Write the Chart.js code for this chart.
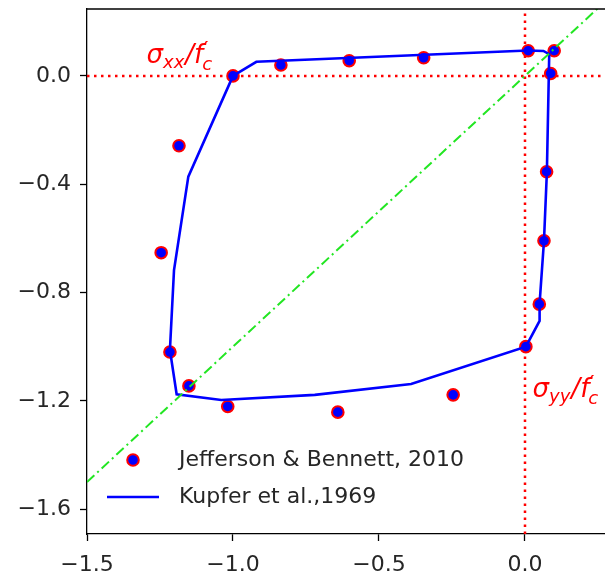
<!DOCTYPE html>
<html>
<head>
<meta charset="utf-8">
<script src="https://cdn.jsdelivr.net/npm/chart.js@4"></script>
<style>
html, body { margin: 0; padding: 0; background: #fff; overflow: hidden; }
#wrap { width: 605px; height: 577px; }
</style>
</head>
<body>
<div id="wrap"><canvas id="chart" width="605" height="577"></canvas></div>
<script>
// Biaxial strength envelope: experiment vs. Kupfer curve
const jbX = [-1.0, -0.836, -0.602, -0.347, 0.011, 0.100, 0.088, 0.074, 0.065, 0.049, 0.003, -0.246, -0.641, -1.018, -1.151, -1.216, -1.246, -1.185];
const jbY = [0.0, 0.040, 0.056, 0.067, 0.093, 0.093, 0.009, -0.354, -0.609, -0.843, -1.0, -1.178, -1.242, -1.221, -1.145, -1.020, -0.653, -0.258];

const kupferX = [-1.0, -0.92, 0.01, 0.063, 0.083, 0.075, 0.065, 0.05, 0.05, 0.003, -0.39, -0.72, -1.04, -1.193, -1.216, -1.202, -1.153, -1.0];
const kupferY = [0.0, 0.052, 0.094, 0.092, 0.08, -0.354, -0.61, -0.84, -0.905, -1.0, -1.138, -1.178, -1.197, -1.176, -1.012, -0.717, -0.372, 0.0];

const xTicks = [-1.5, -1.0, -0.5, 0.0];
const yTicks = [0.0, -0.4, -0.8, -1.2, -1.6];
const xLim = [-1.5, 0.274];
const yLim = [-1.692, 0.247];

const FONT = '"DejaVu Sans", sans-serif';
const INK = '#262626';

const toPts = (xs, ys) => xs.map((x, i) => ({ x: x, y: ys[i] }));
const fmt = v => (v < 0 ? '\u2212' : '') + Math.abs(v).toFixed(1);

// sigma_ab / f'_c written out piece by piece (mathtext style)
function drawRatio(ctx, x, y, sub) {
    const big = 'italic 26px ' + FONT;
    const small = 'italic 18px ' + FONT;
    let cx = x;
    ctx.fillStyle = '#ff0000';
    ctx.textAlign = 'left';
    ctx.textBaseline = 'alphabetic';
    ctx.font = big;
    ctx.fillText('\u03c3', cx, y);
    cx += ctx.measureText('\u03c3').width;
    ctx.font = small;
    ctx.fillText(sub, cx, y + 5);
    cx += ctx.measureText(sub).width + 1;
    ctx.font = big;
    ctx.fillText('/', cx, y);
    cx += ctx.measureText('/').width;
    ctx.fillText('f', cx, y);
    cx += ctx.measureText('f').width;
    ctx.font = 'italic 22px ' + FONT;
    ctx.fillText('\u2032', cx, y - 6);
    ctx.font = small;
    ctx.fillText('c', cx - 1, y + 7);
}

const annotations = {
    id: 'annotations',
    afterDraw(chart) {
        const { ctx, chartArea, scales } = chart;
        ctx.save();
        // top spine
        ctx.strokeStyle = '#000';
        ctx.lineWidth = 1.3;
        ctx.beginPath();
        ctx.moveTo(chartArea.left, chartArea.top);
        ctx.lineTo(chartArea.right, chartArea.top);
        ctx.stroke();

        drawRatio(ctx, scales.x.getPixelForValue(-1.296), scales.y.getPixelForValue(0.048), 'xx');
        drawRatio(ctx, scales.x.getPixelForValue(0.026), scales.y.getPixelForValue(-1.186), 'yy');

        // legend
        const pts = chart.data.datasets[2];
        const line = chart.data.datasets[1];
        const lx = 133, ly1 = 460, ly2 = 497;
        ctx.beginPath();
        ctx.arc(lx, ly1, pts.pointRadius, 0, Math.PI * 2);
        ctx.fillStyle = pts.backgroundColor;
        ctx.fill();
        ctx.lineWidth = pts.borderWidth;
        ctx.strokeStyle = pts.borderColor;
        ctx.stroke();
        ctx.beginPath();
        ctx.moveTo(107, ly2);
        ctx.lineTo(159, ly2);
        ctx.lineWidth = line.borderWidth;
        ctx.strokeStyle = line.borderColor;
        ctx.stroke();
        ctx.fillStyle = INK;
        ctx.font = '22px ' + FONT;
        ctx.textBaseline = 'middle';
        ctx.fillText(pts.label, 179, ly1);
        ctx.fillText(line.label, 179, ly2);
        ctx.restore();
    }
};

const axisCommon = {
    type: 'linear',
    grid: { display: true, drawOnChartArea: false, drawTicks: true, tickLength: 7, tickWidth: 1.3, tickColor: '#000' },
    border: { display: true, color: '#000', width: 1.3 },
    ticks: { color: INK, font: { family: 'DejaVu Sans', size: 22 }, callback: v => fmt(v) }
};

new Chart(document.getElementById('chart'), {
    type: 'scatter',
    data: {
        datasets: [
            {
                label: 'y = x',
                data: toPts(xLim, xLim),
                showLine: true,
                borderColor: '#22e622',
                borderWidth: 2,
                borderDash: [10, 4, 2, 4],
                pointRadius: 0
            },
            {
                label: 'Kupfer et al.,1969',
                data: toPts(kupferX, kupferY),
                showLine: true,
                borderColor: '#0000ff',
                borderWidth: 2.6,
                pointRadius: 0,
                tension: 0
            },
            {
                label: 'Jefferson & Bennett, 2010',
                data: toPts(jbX, jbY),
                showLine: false,
                backgroundColor: '#0000ff',
                borderColor: '#ff0000',
                borderWidth: 2,
                pointRadius: 5.8
            },
            {
                label: 'sxx axis',
                data: toPts(xLim, [0, 0]),
                showLine: true,
                borderColor: '#ff0000',
                borderWidth: 2.5,
                borderDash: [2.5, 4.5],
                pointRadius: 0
            },
            {
                label: 'syy axis',
                data: toPts([0, 0], yLim),
                showLine: true,
                borderColor: '#ff0000',
                borderWidth: 2.5,
                borderDash: [2.5, 4.5],
                pointRadius: 0
            }
        ]
    },
    options: {
        responsive: false,
        devicePixelRatio: 1,
        animation: false,
        layout: { autoPadding: false, padding: { top: 9, right: 0, bottom: 0, left: 0 } },
        plugins: { legend: { display: false }, tooltip: { enabled: false } },
        scales: {
            x: {
                ...axisCommon,
                position: 'bottom',
                min: xLim[0],
                max: xLim[1],
                ticks: { ...axisCommon.ticks, padding: 11, maxRotation: 0 },
                afterBuildTicks: s => { s.ticks = xTicks.map(v => ({ value: v })); },
                afterFit: s => { s.height = 43; s.paddingLeft = 0; s.paddingRight = 0; }
            },
            y: {
                ...axisCommon,
                position: 'left',
                min: yLim[0],
                max: yLim[1],
                ticks: { ...axisCommon.ticks, padding: 9 },
                afterBuildTicks: s => { s.ticks = yTicks.map(v => ({ value: v })); },
                afterFit: s => { s.width = 87; s.paddingTop = 0; s.paddingBottom = 0; }
            }
        }
    },
    plugins: [annotations]
});
</script>
</body>
</html>
